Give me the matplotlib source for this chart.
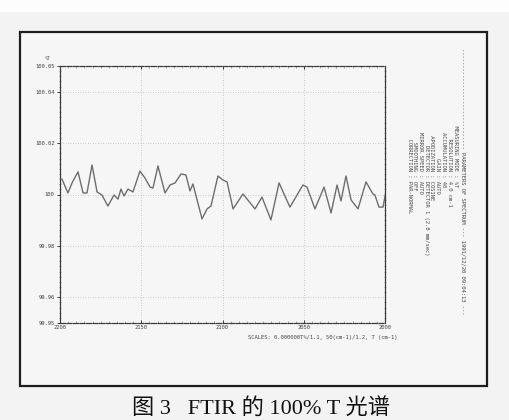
import matplotlib
matplotlib.use('Agg')
import matplotlib.pyplot as plt
from matplotlib.patches import Rectangle
from matplotlib.ticker import MultipleLocator

# spectrum (wavenumber cm-1, %T)
wavenumber = [2198.8, 2195.1, 2192.6, 2188.9, 2185.8, 2183.4, 2180.3, 2177.2, 2174.2, 2170.5,
              2166.8, 2164.3, 2162.5, 2160.6, 2158.2, 2155.1, 2150.8, 2147.7, 2144.6, 2142.8,
              2139.7, 2135.4, 2132.3, 2129.2, 2125.5, 2122.5, 2120.0, 2118.2, 2112.6, 2109.5,
              2107.1, 2102.8, 2099.7, 2097.2, 2093.5, 2087.4, 2080.0, 2075.7, 2070.2, 2065.2,
              2058.5, 2050.5, 2048.0, 2043.1, 2037.5, 2033.2, 2029.5, 2027.1, 2024.0, 2020.9,
              2016.6, 2011.7, 2007.4, 2006.2, 2003.7, 2001.2, 1999.4]
transmit = [100.0060, 100.0006, 100.0045, 100.0088, 100.0006, 100.0006, 100.0115, 100.0010, 99.9998, 99.9955,
            99.9998, 99.9982, 100.0021, 99.9994, 100.0021, 100.0010, 100.0091, 100.0064, 100.0029, 100.0025,
            100.0111, 100.0006, 100.0037, 100.0045, 100.0080, 100.0076, 100.0014, 100.0041, 99.9905, 99.9944,
            99.9955, 100.0072, 100.0056, 100.0049, 99.9944, 100.0002, 99.9944, 99.9990, 99.9901, 100.0045,
            99.9951, 100.0037, 100.0029, 99.9944, 100.0029, 99.9928, 100.0037, 99.9975, 100.0072, 99.9979,
            99.9944, 100.0049, 100.0002, 99.9998, 99.9951, 99.9951, 100.0014]

x_ticks = [2200, 2150, 2100, 2050, 2000]
y_ticks = [99.95, 99.96, 99.98, 100.0, 100.02, 100.04, 100.05]
y_labels = ['99.95', '99.96', '99.98', '100', '100.02', '100.04', '100.05']

header = '-' * 31 + ' PARAMETERS OF SPECTRUM --- 1991/12/20 09:04:13 ---'
param_names = ['MEASURING MODE', 'RESOLUTION', 'ACCUMULATION', 'GAIN', 'APODIZATION',
               'DETECTOR', 'MIRROR SPEED', 'SMOOTHING', 'CORRECTION']
param_values = ['%T', '4.0 cm-1', '40', 'AUTO', 'COSINE',
                'DETECTOR 1 (2.8 mm/sec)', 'AUTO', 'OFF', 'PAR-NORMAL']
scale_text = 'SCALES: 0.000000T%/1.1, 50(cm-1)/1.2, T (cm-1)'
caption = '图 3   FTIR 的 100% T 光谱'

W, H = 510, 420
def fx(px):
    return px / W
def fy(py):
    return 1 - py / H

mono = 'DejaVu Sans Mono'
ink = '#3c3c3c'

fig = plt.figure(figsize=(5.1, 4.2), dpi=100, facecolor='#f3f3f3')
# white strip at top of the scan
fig.add_artist(Rectangle((0, fy(12)), 1, 1 - fy(12), transform=fig.transFigure,
                         facecolor='#fdfdfd', edgecolor='none', zorder=0))
# paper frame
fig.add_artist(Rectangle((fx(20), fy(386)), fx(487) - fx(20), fy(32) - fy(386),
                         transform=fig.transFigure, facecolor='#f6f6f6',
                         edgecolor='#1e1e1e', linewidth=1.6, zorder=0))

ax = fig.add_axes([fx(60), fy(323), fx(385) - fx(60), fy(66) - fy(323)])
ax.set_facecolor('none')
ax.plot(wavenumber, transmit, color='#6e6e6e', linewidth=1.0)
ax.set_xlim(2200, 2000)
ax.set_ylim(99.95, 100.05)

ax.set_xticks(x_ticks)
ax.set_xticklabels([str(t) for t in x_ticks])
ax.set_yticks(y_ticks)
ax.set_yticklabels(y_labels)
ax.xaxis.set_minor_locator(MultipleLocator(5))
ax.yaxis.set_minor_locator(MultipleLocator(0.002))
ax.tick_params(which='major', direction='out', length=2.5, width=0.7, color=ink,
               labelsize=4, labelcolor='#444444', pad=1.5)
ax.tick_params(which='minor', direction='inout', length=1.5, width=0.5, color='#888888')
ax.tick_params(axis='x', which='both', top=True, direction='in')
ax.tick_params(axis='y', which='minor', right=True)
for lab in ax.get_xticklabels() + ax.get_yticklabels():
    lab.set_family(mono)

ax.grid(True, which='major', color='#bbbbbb', linestyle=(0, (1, 2)), linewidth=0.6)
for name, sp in ax.spines.items():
    sp.set_color(ink)
    sp.set_linewidth(0.9)
    sp.set_linestyle((0, (4, 1.2)) if name in ('top', 'bottom') else (0, (1.5, 1)))

fig.text(fx(48), fy(59), '%T', fontsize=3.5, family=mono, color='#555555',
         ha='center', va='center')
fig.text(fx(248), fy(337), scale_text, fontsize=4, family=mono, color='#444444',
         ha='left', va='center')

# parameter block, rotated
fig.text(fx(463), fy(48), header, rotation=-90, fontsize=4, family=mono,
         color='#444444', ha='center', va='top')
col_x = [456, 450, 444, 438, 432, 427, 421, 415, 409]
for cx, name, val in zip(col_x, param_names, param_values):
    fig.text(fx(cx), fy(119), name.rjust(16) + ' : ' + val, rotation=-90, fontsize=4,
             family=mono, color='#4a4a4a', ha='center', va='top')

fig.text(fx(261), fy(399), caption, fontsize=16, color='#111111',
         family=['Liberation Serif', 'Noto Sans CJK SC'], ha='center', va='top')

fig.savefig('out.png', dpi=100, facecolor=fig.get_facecolor())
